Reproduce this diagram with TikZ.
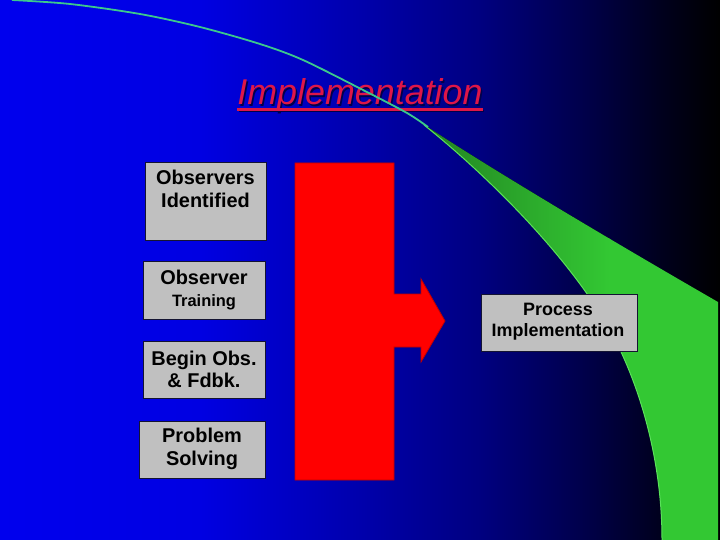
\documentclass[tikz,border=0pt]{standalone}
\usepackage{fontspec}
\setmainfont{Liberation Sans}
\usetikzlibrary{calc}
\definecolor{bgA}{RGB}{0,0,238}
\definecolor{bgA2}{RGB}{0,0,226}
\definecolor{bgB}{RGB}{0,0,172}
\definecolor{bgC}{RGB}{0,0,128}
\definecolor{bgD}{RGB}{0,0,76}
\definecolor{bgE}{RGB}{0,0,30}
\definecolor{gDark}{RGB}{34,130,34}
\definecolor{gBright}{RGB}{51,200,51}
\definecolor{gLine}{RGB}{60,200,140}
\definecolor{gEdge}{RGB}{90,225,90}
\definecolor{titleRed}{RGB}{222,22,72}
\definecolor{boxGray}{RGB}{192,192,192}
\definecolor{boxLine}{RGB}{20,20,50}
\pgfdeclarehorizontalshading{bgshade}{100bp}{color(0bp)=(bgA); color(25bp)=(bgA); color(38.9bp)=(bgA2); color(50bp)=(bgB); color(58.3bp)=(bgC); color(65.3bp)=(bgD); color(70.8bp)=(bgE); color(75bp)=(black); color(100bp)=(black)}
\tikzset{
  gbox/.style={draw=boxLine, line width=1bp, fill=boxGray, inner sep=0pt},
  bigtxt/.style={anchor=base, inner sep=0pt, font=\bfseries\fontsize{20}{24}\selectfont},
  midtxt/.style={anchor=base, inner sep=0pt, font=\bfseries\fontsize{18}{22}\selectfont},
  smalltxt/.style={anchor=base, inner sep=0pt, font=\bfseries\fontsize{16.5}{19}\selectfont},
  titletxt/.style={anchor=base, inner sep=0pt, font=\itshape\fontsize{36}{42}\selectfont}
}
\begin{document}
\begin{tikzpicture}[x=1bp,y=-1bp]
\useasboundingbox (0,0) rectangle (720,540);
% background
\shade[shading=bgshade] (0,0) rectangle (720,540);
% title
\node[titletxt, text=black!70!blue] (titleshadow) at (361.5,106.5) {Implementation};
\node[titletxt, text=titleRed] (title) at (360,105) {Implementation};
\draw[black!70!blue, line width=2.5bp] ([xshift=1.5bp,yshift=-6bp]title.base west) -- ([xshift=1.5bp,yshift=-6bp]title.base east);
\draw[titleRed, line width=2.5bp] ([yshift=-4.5bp]title.base west) -- ([yshift=-4.5bp]title.base east);
% green swoosh
\begin{scope}
  \clip (420,122) .. controls (475,165) and (565,250) .. (610,330)
    .. controls (640,385) and (662,460) .. (662,540)
    -- (718,540) -- (718,302)
    .. controls (600,234) and (480,162) .. (420,122) -- cycle;
  \fill[left color=gDark, right color=gBright] (420,100) rectangle (610,540);
  \fill[gBright] (609,100) rectangle (720,540);
\end{scope}
\draw[gEdge, line width=1bp] (424,125) .. controls (477,167) and (565,250) .. (610,330)
    .. controls (640,385) and (662,460) .. (662,540);
\draw[gLine, line width=1.8bp] plot[smooth] coordinates {(12,0) (70,4) (140,14) (200,27) (260,44) (303,60) (363,90) (407,113) (428,127)};
% big red arrow
\draw[fill=red, draw=red!75!black, line width=0.8bp]
  (295,163) -- (394,163) -- (394,294) -- (421,294) -- (421,279) -- (445,321)
  -- (421,362) -- (421,347) -- (394,347) -- (394,480) -- (295,480) -- cycle;
% boxes
\node[gbox, minimum width=121bp, minimum height=77bp] (b1) at (205.5,201.5) {};
\node[gbox, minimum width=122bp, minimum height=57bp] (b2) at (204,290.5) {};
\node[gbox, minimum width=122bp, minimum height=57bp] (b3) at (204,369.5) {};
\node[gbox, minimum width=126bp, minimum height=57bp] (b4) at (202,449.5) {};
\node[gbox, minimum width=156bp, minimum height=57bp] (b5) at (559,322.5) {};
% box texts
\node[bigtxt] (b1a) at (205.5,185) {Observers};
\node[bigtxt] (b1b) at (205.5,208) {Identified};
\node[bigtxt] (b2a) at (204,285) {Observer};
\node[smalltxt] (b2b) at (204,306.5) {Training};
\node[bigtxt] (b3a) at (204,365) {Begin Obs.};
\node[bigtxt] (b3b) at (204,387) {\& Fdbk.};
\node[bigtxt] (b4a) at (202,442.5) {Problem};
\node[bigtxt] (b4b) at (202,465) {Solving};
\node[midtxt] (b5a) at (558,315) {Process};
\node[midtxt] (b5b) at (558,336.5) {Implementation};
\end{tikzpicture}
\end{document}
